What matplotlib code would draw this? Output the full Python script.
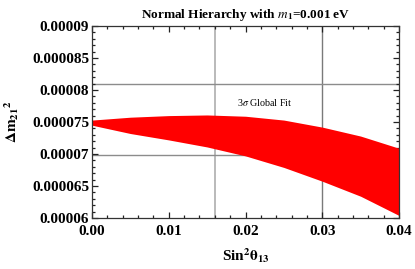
import matplotlib
matplotlib.use("Agg")
import matplotlib.pyplot as plt
from matplotlib.ticker import MultipleLocator, FormatStrFormatter

# Data
s13 = [0.0, 0.005, 0.010, 0.015, 0.020, 0.025, 0.030, 0.035, 0.040]
dm21_upper = [7.53e-5, 7.575e-5, 7.60e-5, 7.61e-5, 7.59e-5, 7.53e-5, 7.42e-5, 7.28e-5, 7.09e-5]
dm21_lower = [7.45e-5, 7.32e-5, 7.22e-5, 7.11e-5, 6.97e-5, 6.79e-5, 6.575e-5, 6.34e-5, 6.04e-5]
s13_fit = [0.016, 0.030]
dm21_fit = [6.99e-5, 8.09e-5]
x_ticks = [0.00, 0.01, 0.02, 0.03, 0.04]
y_ticks = [0.00006, 0.000065, 0.00007, 0.000075, 0.00008, 0.000085, 0.00009]
y_tick_labels = ["0.00006", "0.000065", "0.00007", "0.000075", "0.00008", "0.000085", "0.00009"]

serif = ["Liberation Serif", "DejaVu Serif"]
plt.rcParams["font.family"] = serif
plt.rcParams["mathtext.fontset"] = "stix"

fig = plt.figure(figsize=(4.15, 2.69), dpi=100)
ax = fig.add_axes([92/415, 1 - 218/269, (399-92)/415, (218-26)/269])

ax.fill_between(s13, dm21_lower, dm21_upper, color="#ff0000", lw=0, zorder=2)

ax.axvline(s13_fit[0], color="#b4b4b4", lw=1.3, zorder=1)
ax.axvline(s13_fit[1], color="#7a7a7a", lw=1.0, zorder=1)
for yv in dm21_fit:
    ax.axhline(yv, color="#8c8c8c", lw=1.0, zorder=1)

ax.text(0.0225, 7.8e-5, r"3$\sigma$ Global Fit", fontsize=7.2, ha="center", va="center",
        family=serif)

ax.set_xlim(0, 0.04)
ax.set_ylim(6e-5, 9e-5)
ax.set_xticks(x_ticks)
ax.set_yticks(y_ticks)
ax.set_yticklabels(y_tick_labels)
ax.xaxis.set_major_formatter(FormatStrFormatter("%.2f"))
ax.xaxis.set_minor_locator(MultipleLocator(0.002))
ax.yaxis.set_minor_locator(MultipleLocator(0.000001))
ax.tick_params(which="both", direction="in", top=True, right=True, width=0.9, color="#222222")
ax.tick_params(which="major", length=4.5, labelsize=11)
ax.tick_params(which="minor", length=2.5)
ax.tick_params(axis="x", which="major", pad=5)
ax.tick_params(axis="y", which="major", pad=2)
for lab in ax.get_xticklabels() + ax.get_yticklabels():
    lab.set_fontweight("bold")
for sp in ax.spines.values():
    sp.set_linewidth(0.9)
    sp.set_color("#333333")

ax.set_title(r"Normal Hierarchy with $\mathbf{\mathit{m}_1}$=0.001 eV", fontsize=9.5,
             fontweight="bold", pad=6)
ax.set_xlabel(r"Sin$^\mathbf{2}\mathbf{\theta}_\mathbf{13}$", fontsize=11, fontweight="bold", labelpad=6)
ax.set_ylabel(r"$\mathbf{\Delta m_{21}}^\mathbf{2}$", fontsize=11, fontweight="bold", labelpad=8)

fig.savefig("out.png", dpi=100)
